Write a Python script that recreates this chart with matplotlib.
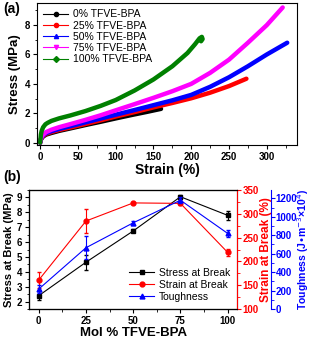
import matplotlib
matplotlib.use("Agg")
import matplotlib.pyplot as plt
from matplotlib.lines import Line2D
from matplotlib.ticker import MultipleLocator

plt.rcParams["font.family"] = ["Liberation Sans", "DejaVu Sans"]

# (a) stress-strain curves
strain_0 = [0, 1, 2, 4, 8, 15, 25, 40, 60, 80, 100, 120, 140, 160]
stress_0 = [0, 0.2, 0.3, 0.42, 0.55, 0.66, 0.8, 0.97, 1.2, 1.42, 1.65, 1.87, 2.08, 2.3]
strain_25 = [0, 1, 2, 4, 8, 15, 25, 40, 60, 80, 100, 125, 150, 175, 200, 225, 250, 273]
stress_25 = [0, 0.22, 0.32, 0.45, 0.6, 0.72, 0.86, 1.03, 1.27, 1.52, 1.78, 2.08, 2.4, 2.7,
             3.02, 3.4, 3.85, 4.35]
strain_50 = [0, 1, 2, 4, 8, 15, 25, 40, 60, 80, 100, 125, 150, 175, 200, 225, 250, 275,
             300, 327]
stress_50 = [0, 0.25, 0.35, 0.5, 0.65, 0.78, 0.93, 1.12, 1.38, 1.64, 1.9, 2.22, 2.55, 2.88,
             3.25, 3.8, 4.45, 5.2, 6.0, 6.8]
strain_75 = [0, 1, 2, 4, 8, 15, 25, 40, 60, 80, 100, 125, 150, 175, 200, 225, 250, 275,
             300, 321]
stress_75 = [0, 0.28, 0.4, 0.55, 0.72, 0.88, 1.05, 1.26, 1.55, 1.86, 2.2, 2.62, 3.05, 3.5,
             4.0, 4.75, 5.65, 6.8, 8.0, 9.2]
strain_100 = [0, 1, 2, 4, 7, 10, 15, 25, 40, 60, 80, 100, 125, 150, 175, 195, 205, 211,
              214, 215, 213]
stress_100 = [0, 0.55, 0.8, 1.05, 1.25, 1.35, 1.48, 1.65, 1.85, 2.15, 2.5, 2.9, 3.55, 4.3,
              5.2, 6.1, 6.7, 7.1, 7.2, 7.05, 6.9]
curve_labels = ["0% TFVE-BPA", "25% TFVE-BPA", "50% TFVE-BPA", "75% TFVE-BPA", "100% TFVE-BPA"]
curve_colors = ["black", "#ff0000", "#0000ff", "#ff00ff", "#008000"]
curve_markers = ["o", "o", "^", "v", "D"]

# (b) properties vs composition
mol_pct = [0, 25, 50, 75, 100]
stress_break = [2.4, 4.65, 6.75, 9.05, 7.8]
stress_err = [0.3, 0.5, 0.1, 0.15, 0.3]
strain_break = [161, 285, 323, 322, 219]
strain_err = [16, 26, 2, 4, 8]
toughness = [217, 665, 935, 1180, 820]
tough_err = [45, 125, 25, 30, 40]
prop_labels = ["Stress at Break", "Strain at Break", "Toughness"]
prop_colors = ["black", "#ff0000", "#0000ff"]
prop_markers = ["s", "o", "^"]

fig = plt.figure(figsize=(3.12, 3.4), dpi=100)

# ---- panel (a)
ax1 = fig.add_axes([0.119, 0.574, 0.833, 0.417])
curves = [(strain_0, stress_0), (strain_25, stress_25), (strain_50, stress_50),
          (strain_75, stress_75), (strain_100, stress_100)]
for (x, y), c in zip(curves, curve_colors):
    ax1.plot(x, y, color=c, lw=3.2, solid_capstyle="round", solid_joinstyle="round")
ax1.set_xlim(-4, 340)
ax1.set_ylim(-0.15, 9.5)
ax1.xaxis.set_major_locator(MultipleLocator(50))
ax1.xaxis.set_minor_locator(MultipleLocator(25))
ax1.yaxis.set_major_locator(MultipleLocator(2))
ax1.yaxis.set_minor_locator(MultipleLocator(1))
ax1.tick_params(which="both", direction="out", top=False, right=False, labelsize=7, pad=2)
ax1.tick_params(which="major", length=3)
ax1.tick_params(which="minor", length=1.8)
for lab in ax1.get_xticklabels() + ax1.get_yticklabels():
    lab.set_fontweight("bold")
ax1.set_xlabel("Strain (%)", fontsize=10, fontweight="bold", labelpad=1)
ax1.set_ylabel("Stress (MPa)", fontsize=9.5, fontweight="bold", labelpad=3)
handles = [Line2D([], [], color=c, marker=m, ms=3, lw=0.8)
           for c, m in zip(curve_colors, curve_markers)]
ax1.legend(handles, curve_labels, loc="upper left", frameon=False, fontsize=7.5,
           handlelength=2.4, handletextpad=0.4, labelspacing=0.12,
           borderaxespad=0.2, bbox_to_anchor=(0.0, 1.0))
fig.text(0.01, 0.975, "(a)", fontsize=10, fontweight="bold", va="center")

# ---- panel (b)
ax2 = fig.add_axes([0.094, 0.091, 0.666, 0.35])
ax3 = ax2.twinx()
ax4 = ax2.twinx()
ax4.spines["right"].set_position(("axes", 1.165))

ax2.errorbar(mol_pct, stress_break, yerr=stress_err, color=prop_colors[0],
             marker=prop_markers[0], ms=3.5, lw=0.8, capsize=1.5, elinewidth=0.8)
ax3.errorbar(mol_pct, strain_break, yerr=strain_err, color=prop_colors[1],
             marker=prop_markers[1], ms=3.5, lw=0.8, capsize=1.5, elinewidth=0.8)
ax4.errorbar(mol_pct, toughness, yerr=tough_err, color=prop_colors[2],
             marker=prop_markers[2], ms=3.5, lw=0.8, capsize=1.5, elinewidth=0.8)

ax2.set_xlim(-5, 105)
ax2.set_ylim(1.5, 9.5)
ax3.set_ylim(100, 350)
ax4.set_ylim(0, 1290)
ax2.set_xticks(mol_pct)
ax2.xaxis.set_minor_locator(MultipleLocator(12.5))
ax2.yaxis.set_major_locator(MultipleLocator(1))
ax2.yaxis.set_minor_locator(MultipleLocator(0.5))
ax3.yaxis.set_major_locator(MultipleLocator(50))
ax3.yaxis.set_minor_locator(MultipleLocator(25))
ax4.yaxis.set_major_locator(MultipleLocator(200))
ax4.yaxis.set_minor_locator(MultipleLocator(100))

ax2.tick_params(which="both", direction="out", top=False, labelsize=7, pad=2)
ax3.tick_params(which="both", direction="out", colors="#ff0000", labelsize=7, pad=1)
ax4.tick_params(which="both", direction="out", colors="#0000ff", labelsize=7, pad=0)
for a in (ax2, ax3, ax4):
    a.tick_params(which="major", length=3)
    a.tick_params(which="minor", length=1.8)
ax3.spines["right"].set_color("#ff0000")
ax4.spines["right"].set_color("#0000ff")
for lab in (ax2.get_xticklabels() + ax2.get_yticklabels() + ax3.get_yticklabels()
            + ax4.get_yticklabels()):
    lab.set_fontweight("bold")

ax2.set_xlabel("Mol % TFVE-BPA", fontsize=9.5, fontweight="bold", labelpad=1)
ax2.set_ylabel("Stress at Break (MPa)", fontsize=8, fontweight="bold", labelpad=2)
ax3.set_ylabel("Strain at Break (%)", fontsize=8.5, fontweight="bold", color="#ff0000",
               labelpad=1)
ax4.set_ylabel("Toughness (J\u2022m$^{-3}$\u00d710$^{4}$)", fontsize=7.5, fontweight="bold",
               color="#0000ff", labelpad=-1.5)

prop_handles = [Line2D([], [], color=c, marker=m, ms=3.5, lw=0.8)
                for c, m in zip(prop_colors, prop_markers)]
ax2.legend(prop_handles, prop_labels, loc="lower right", frameon=False, fontsize=7.5,
           handlelength=2.4, handletextpad=0.4, labelspacing=0.2, borderaxespad=0.3)
fig.text(0.01, 0.478, "(b)", fontsize=10, fontweight="bold", va="center")

fig.savefig("out.png", dpi=100)
